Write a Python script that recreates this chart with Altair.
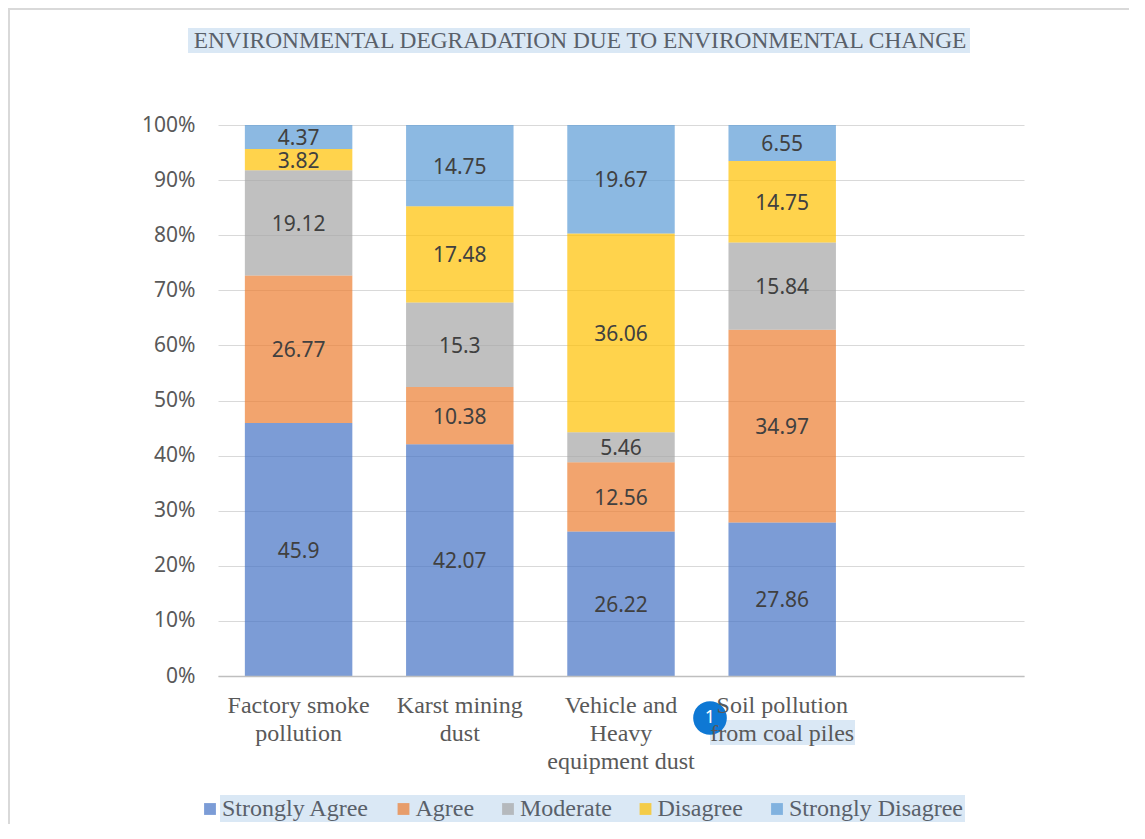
import altair as alt
import pandas as pd

categories = [
    "Factory smoke pollution",
    "Karst mining dust",
    "Vehicle and Heavy equipment dust",
    "Soil pollution from coal piles",
]
label_lines = [
    ["Factory smoke", "pollution"],
    ["Karst mining", "dust"],
    ["Vehicle and", "Heavy", "equipment dust"],
    ["Soil pollution", "from coal piles"],
]
responses = ["Strongly Agree", "Agree", "Moderate", "Disagree", "Strongly Disagree"]
strongly_agree = [45.9, 42.07, 26.22, 27.86]
agree = [26.77, 10.38, 12.56, 34.97]
moderate = [19.12, 15.3, 5.46, 15.84]
disagree = [3.82, 17.48, 36.06, 14.75]
strongly_disagree = [4.37, 14.75, 19.67, 6.55]
colors = ["#4472C4", "#ED7D31", "#A5A5A5", "#FFC000", "#5B9BD5"]
y_ticks = [0, 0.1, 0.2, 0.3, 0.4, 0.5, 0.6, 0.7, 0.8, 0.9, 1.0]
title_text = "ENVIRONMENTAL DEGRADATION DUE TO ENVIRONMENTAL CHANGE"

series = [strongly_agree, agree, moderate, disagree, strongly_disagree]
rows = []
for ci, cat in enumerate(categories):
    for ri, resp in enumerate(responses):
        v = series[ri][ci]
        rows.append({"category": cat, "response": resp, "order": ri,
                     "value": v, "label": str(v)})
df = pd.DataFrame(rows)

x_domain = categories + [" "]

expr = "''"
for cat, lines in reversed(list(zip(categories, label_lines))):
    arr = "[" + ",".join("'" + l + "'" for l in lines) + "]"
    expr = f"datum.label == '{cat}' ? {arr} : ({expr})"

x_enc = alt.X(
    "category:N",
    scale=alt.Scale(domain=x_domain, paddingInner=1 / 3, paddingOuter=1 / 6),
    sort=x_domain,
    axis=alt.Axis(
        title=None, labelExpr=expr, labelAngle=0, labelFont="Liberation Serif",
        labelFontSize=24, labelColor="#595959", labelLineHeight=28,
        labelPadding=17, ticks=False, domainColor="#BFBFBF", domainWidth=1.5,
        labelOverlap=False, labelLimit=400, zindex=1,
    ),
)

base = alt.Chart(df).transform_stack(
    stack="value", groupby=["category"], as_=["v0", "v1"],
    offset="normalize", sort=[alt.SortField("order", order="ascending")],
).transform_calculate(mid="(datum.v0 + datum.v1) / 2")

bars = base.mark_bar(opacity=0.7).encode(
    x=x_enc,
    y=alt.Y(
        "v0:Q", scale=alt.Scale(domain=[0, 1]),
        axis=alt.Axis(
            title=None, values=y_ticks, format=".0%", domain=False, ticks=False,
            labelFont="Noto Sans", labelFontSize=21, labelColor="#595959",
            labelPadding=23, gridColor="#D9D9D9", gridWidth=1,
        ),
    ),
    y2="v1:Q",
    color=alt.Color(
        "response:N", scale=alt.Scale(domain=responses, range=colors),
        legend=alt.Legend(
            title=None, orient="none", legendX=-20, legendY=672,
            direction="horizontal", columns=5, symbolType="square",
            symbolSize=140, symbolStrokeWidth=0, labelFont="Liberation Serif",
            labelFontSize=24, labelColor="#59606A", columnPadding=21.5,
            labelOffset=0, padding=0, labelLimit=400,
        ),
    ),
    order=alt.Order("order:Q"),
)

texts = base.mark_text(
    font="Noto Sans", fontSize=21, color="#404040", align="center",
    baseline="middle", dy=2,
).encode(x=alt.X("category:N", scale=alt.Scale(domain=x_domain), sort=x_domain),
         y=alt.Y("mid:Q"), text="label:N")

deco = pd.DataFrame({"k": [0]})
title_hl = alt.Chart(deco).mark_rect(color="#DAE8F5").encode(
    x=alt.value(-30), x2=alt.value(752), y=alt.value(-97), y2=alt.value(-72))
title = alt.Chart(deco).mark_text(
    text=title_text, font="Liberation Serif", fontSize=23.4, color="#59606A",
    align="center", baseline="alphabetic",
).encode(x=alt.value(362), y=alt.value(-77))
legend_hl = alt.Chart(deco).mark_rect(color="#DAE8F5").encode(
    x=alt.value(2), x2=alt.value(747), y=alt.value(670), y2=alt.value(697))
label_hl = alt.Chart(deco).mark_rect(color="#DAE8F5").encode(
    x=alt.value(492), x2=alt.value(637), y=alt.value(595), y2=alt.value(620))
frame_left = alt.Chart(deco).mark_rule(color="#D9D9D9", strokeWidth=2).encode(
    x=alt.value(-209), y=alt.value(-117), y2=alt.value(720))
frame_top = alt.Chart(deco).mark_rule(color="#D9D9D9", strokeWidth=2).encode(
    x=alt.value(-210), x2=alt.value(920), y=alt.value(-116))
badge = alt.Chart(deco).mark_circle(color="#0E78D4", opacity=1, size=1134).encode(
    x=alt.value(492), y=alt.value(593))
badge_txt = alt.Chart(deco).mark_text(
    text="1", color="white", font="Noto Sans", fontSize=18, align="center", baseline="middle"
).encode(x=alt.value(492), y=alt.value(593))

chart = alt.layer(
    frame_left, frame_top, title_hl, title, legend_hl, label_hl, bars, texts,
    badge, badge_txt,
).properties(
    width=806, height=551,
    padding={"left": 210, "top": 117, "right": 105, "bottom": 148},
    autosize=alt.AutoSizeParams(type="none"),
).configure_view(stroke=None).configure_axis(labelFontWeight="normal")

chart.save("out.html", embed_options={"renderer": "svg", "actions": False})
